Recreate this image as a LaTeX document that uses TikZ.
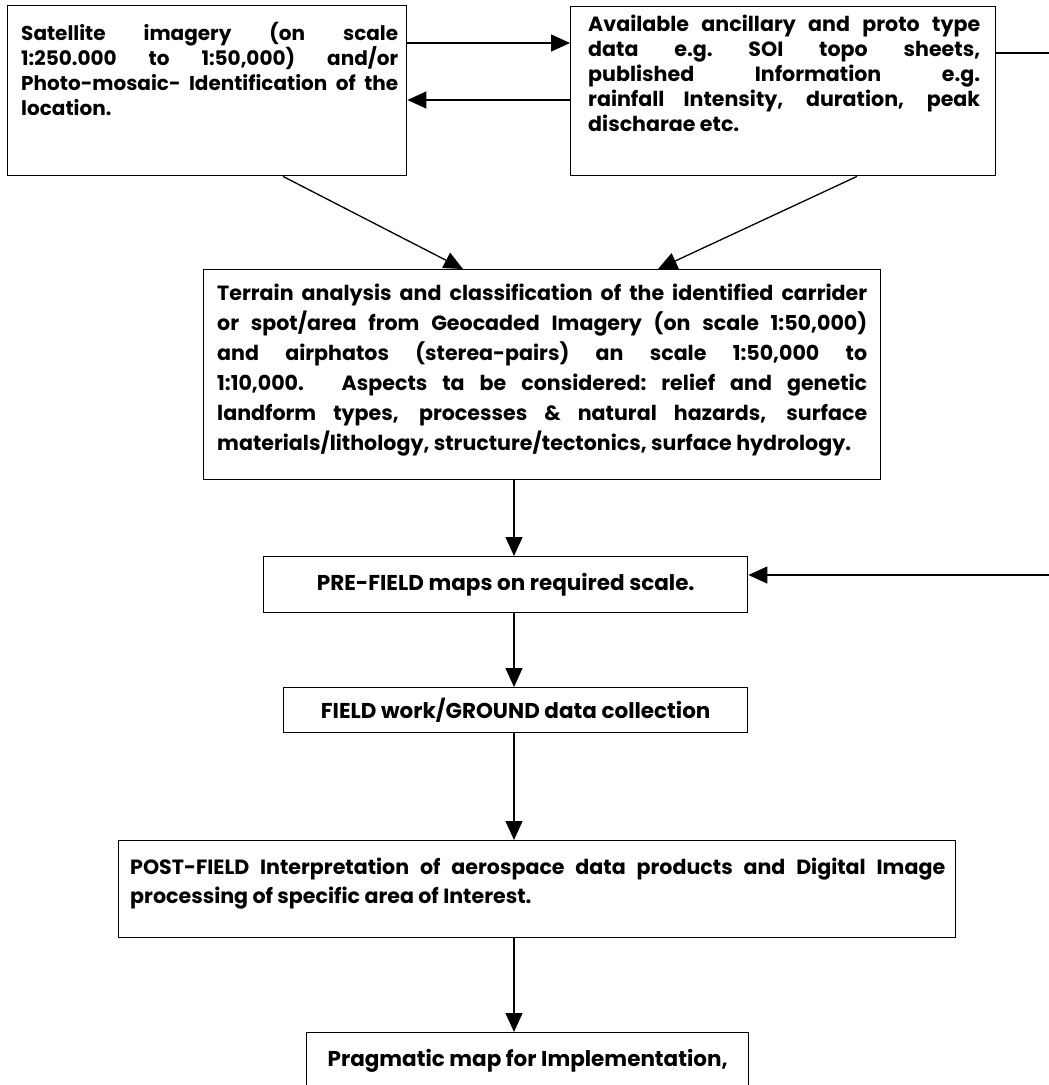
\documentclass[tikz,border=0pt]{standalone}
\usepackage{fontspec}
\setmainfont{Poppins}
\usetikzlibrary{arrows.meta}
\begin{document}
\begin{tikzpicture}[x=1pt,y=-1pt,
  box/.style={draw=black, line width=1.4pt, rectangle, inner sep=0pt, anchor=north west},
  txt/.style={inner sep=0pt, anchor=north west, align=justify, font=\bfseries\fontsize{20.6}{25}\selectfont},
  ctxt/.style={inner sep=0pt, align=center, font=\bfseries\fontsize{21.5}{25}\selectfont},
  arr/.style={-{Triangle[length=19pt,width=17pt]}, line width=1.3pt},
  ln/.style={line width=1.3pt}]
\useasboundingbox (0,0) rectangle (1049,1085);
\clip (0,0) rectangle (1049,1085);

% boxes
\node[box, minimum width=399pt, minimum height=170pt] (b1) at (7,5) {};
\node[txt, text width=377pt, font=\bfseries\fontsize{20}{25}\selectfont] (t1) at (21,22) {Satellite imagery (on scale\linebreak 1:250.000 to 1:50,000) and/or\linebreak Photo-mosaic- Identification of the\linebreak location.};

\node[box, minimum width=425pt, minimum height=169pt] (b2) at (570,6) {};
\node[txt, text width=392pt] (t2) at (588,15) {Available ancillary and proto type\linebreak data e.g.\ SOI topo sheets,\linebreak published Information e.g.\linebreak rainfall Intensity, duration, peak\linebreak discharae etc.};

\node[box, minimum width=677pt, minimum height=210pt] (b3) at (203,269) {};
\node[txt, text width=650pt, font=\bfseries\fontsize{20.6}{30}\selectfont] (t3) at (217,284) {Terrain analysis and classification of the identified carrider\linebreak or spot/area from Geocaded Imagery (on scale 1:50,000)\linebreak and airphatos (sterea-pairs) an scale 1:50,000 to\linebreak 1:10,000. Aspects ta be considered:\ relief and genetic\linebreak landform types, processes \& natural hazards, surface\linebreak materials/lithology, structure/tectonics, surface hydrology.};

\node[box, minimum width=484pt, minimum height=56pt] (pre) at (263,556) {};
\node[ctxt] (tpre) at (pre.center) {PRE-FIELD maps on required scale.};

\node[box, minimum width=464pt, minimum height=45pt] (fld) at (283,687) {};
\node[ctxt] (tfld) at (fld.center) {FIELD work/GROUND data collection};

\node[box, minimum width=837pt, minimum height=97pt] (post) at (118,840) {};
\node[txt, text width=815pt, font=\bfseries\fontsize{20.6}{29}\selectfont] (tpost) at (130,858) {POST-FIELD Interpretation of aerospace data products and Digital Image\linebreak processing of specific area of Interest.};

\node[box, minimum width=442pt, minimum height=75pt] (prag) at (306,1032) {};
\node[ctxt] (tprag) at (prag.north |- 0,1061) {Pragmatic map for Implementation,};

% connectors
\coordinate (ax) at (514,0);
\coordinate (fbtop) at (1065,53);
\coordinate (fbbot) at (1065,575);

\draw[arr] (b1.east |- 0,43) -- (b2.west |- 0,43);
\draw[arr] (b2.west |- 0,100) -- (b1.east |- 0,100);
\draw[arr] (b2.east |- fbtop) -- (fbtop) -- (fbbot) -- (pre.east |- fbbot);

\draw[arr] (b1.south -| 283,0) -- (b3.north -| 463,0);
\draw[arr] (b2.south -| 857,0) -- (b3.north -| 658,0);

\draw[arr] (b3.south -| ax) -- (pre.north -| ax);
\draw[arr] (pre.south -| ax) -- (fld.north -| ax);
\draw[arr] (fld.south -| ax) -- (post.north -| ax);
\draw[arr] (post.south -| ax) -- (prag.north -| ax);
\end{tikzpicture}
\end{document}
